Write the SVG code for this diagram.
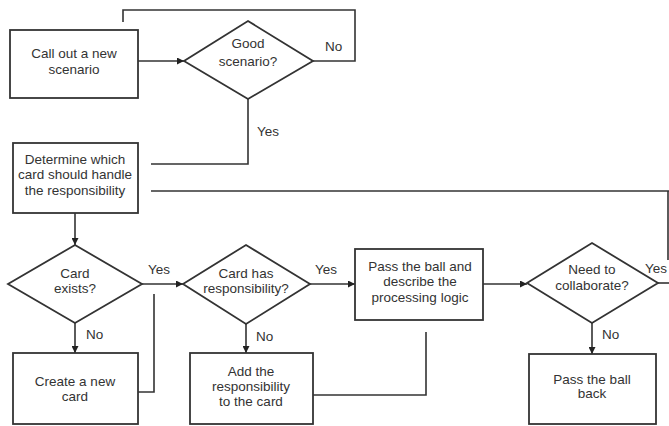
<svg xmlns="http://www.w3.org/2000/svg" width="669" height="426" viewBox="0 0 669 426">
  <defs>
    <marker id="arrow" viewBox="0 0 10 10" refX="10" refY="5" markerWidth="7" markerHeight="7" markerUnits="userSpaceOnUse" orient="auto">
      <path d="M0,0 L10,5 L0,10 z" fill="#222"/>
    </marker>
    <style>
      .shape { fill: #fff; stroke: #333; stroke-width: 1.8; }
      .link { fill: none; stroke: #333; stroke-width: 1.6; }
      .arrow { marker-end: url(#arrow); }
      text { font-family: "Liberation Sans", Arial, sans-serif; font-size: 13.5px; fill: #333; text-anchor: middle; }
      .lbl { text-anchor: start; }
    </style>
  </defs>
  <rect width="669" height="426" fill="#fff"/>

  <!-- connectors -->
  <g id="connectors">
    <path class="link arrow" d="M138,61 H184"/>
    <path class="link" d="M313,61 H355 V10 H123 V22"/>
    <path class="link" d="M248,99 V164 H151"/>
    <path class="link" d="M151,191 H669"/>
    <path class="link" d="M668,191 V260"/>
    <path class="link arrow" d="M75,213 V245"/>
    <path class="link arrow" d="M142,284 H183"/>
    <path class="link arrow" d="M75,323 V353"/>
    <path class="link" d="M138,392 H154 V294"/>
    <path class="link arrow" d="M310,284 H355"/>
    <path class="link arrow" d="M246,324 V353"/>
    <path class="link" d="M313,395 H426 V332"/>
    <path class="link arrow" d="M483,284 H527"/>
    <path class="link" d="M658,283 H669"/>
    <path class="link arrow" d="M592,323 V354"/>
  </g>

  <!-- edge labels -->
  <g id="edge-labels">
    <text class="lbl" x="325" y="51">No</text>
    <text class="lbl" x="257" y="136">Yes</text>
    <text class="lbl" x="148" y="274">Yes</text>
    <text class="lbl" x="86" y="339">No</text>
    <text class="lbl" x="315" y="274">Yes</text>
    <text class="lbl" x="256" y="341">No</text>
    <text class="lbl" x="645" y="273" font-size="12.5">Yes</text>
    <text class="lbl" x="602" y="339">No</text>
  </g>

  <g id="call-out-scenario">
    <rect class="shape" x="10" y="30" width="128" height="68"/>
    <text x="74" y="58">Call out a new</text>
    <text x="74" y="74">scenario</text>
  </g>

  <g id="good-scenario">
    <polygon class="shape" points="248,21 313,61 248,99 184,61"/>
    <text x="248" y="48">Good</text>
    <text x="248" y="66">scenario?</text>
  </g>

  <g id="determine-card">
    <rect class="shape" x="13" y="143" width="125" height="70"/>
    <text x="75" y="164">Determine which</text>
    <text x="75" y="179">card should handle</text>
    <text x="75" y="195">the responsibility</text>
  </g>

  <g id="card-exists">
    <polygon class="shape" points="75,245 142,284 75,323 8,284"/>
    <text x="75" y="278">Card</text>
    <text x="75" y="293">exists?</text>
  </g>

  <g id="create-card">
    <rect class="shape" x="13" y="353" width="125" height="71"/>
    <text x="75" y="386">Create a new</text>
    <text x="75" y="401">card</text>
  </g>

  <g id="card-has-responsibility">
    <polygon class="shape" points="246,245 310,284 246,324 183,284"/>
    <text x="246" y="278">Card has</text>
    <text x="246" y="293">responsibility?</text>
  </g>

  <g id="add-responsibility">
    <rect class="shape" x="190" y="353" width="123" height="71"/>
    <text x="251" y="376">Add the</text>
    <text x="251" y="391">responsibility</text>
    <text x="251" y="406">to the card</text>
  </g>

  <g id="pass-ball-describe">
    <rect class="shape" x="355" y="249" width="128" height="71"/>
    <text x="420" y="271">Pass the ball and</text>
    <text x="420" y="286">describe the</text>
    <text x="420" y="302">processing logic</text>
  </g>

  <g id="need-to-collaborate">
    <polygon class="shape" points="592,243 658,283 592,323 527,283"/>
    <text x="592" y="274">Need to</text>
    <text x="592" y="290">collaborate?</text>
  </g>

  <g id="pass-ball-back">
    <rect class="shape" x="529" y="354" width="127" height="70"/>
    <text x="592" y="384">Pass the ball</text>
    <text x="592" y="398">back</text>
  </g>
</svg>
